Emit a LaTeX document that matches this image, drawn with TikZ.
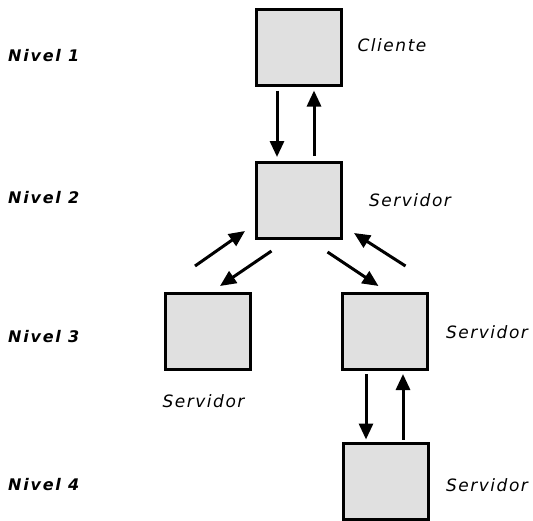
\documentclass[tikz,border=0pt]{standalone}
\usepackage{fontspec}
\setmainfont{DejaVu Sans}
\usetikzlibrary{arrows.meta}
\newfontfamily\lvlfont[LetterSpace=11]{DejaVu Sans Bold Oblique}
\newfontfamily\lblfont[LetterSpace=9]{DejaVu Sans Oblique}
\begin{document}
\begin{tikzpicture}[x=1pt,y=-1pt,
  box/.style={draw,line width=3pt,fill=black!12,minimum width=85pt,minimum height=76pt,inner sep=0pt},
  arr/.style={line width=3pt,-{Triangle[length=16pt,width=14pt]}},
  lvl/.style={font=\lvlfont\fontsize{16}{18}\selectfont,anchor=west,inner sep=0pt},
  lbl/.style={font=\lblfont\fontsize{17}{19}\selectfont,inner sep=0pt}]
\useasboundingbox[fill=white] (0,0) rectangle (533,520);
% boxes
\node[box] (b1) at (299,47) {};
\node[box] (b2) at (299,200.5) {};
\node[box] (b3l) at (207.5,331.5) {};
\node[box] (b3r) at (385,331.5) {};
\node[box] (b4) at (386,481) {};
% labels
\node[lbl] (c1) at (392,45) {Cliente};
\node[lbl] (s2) at (410,200) {Servidor};
\node[lbl] (s3r) at (487,332) {Servidor};
\node[lbl] (s3l) at (203.5,401) {Servidor};
\node[lbl] (s4) at (487,485) {Servidor};
\node[lvl] (n1) at (8,56) {Nivel 1};
\node[lvl] (n2) at (8,198) {Nivel 2};
\node[lvl] (n3) at (8,337) {Nivel 3};
\node[lvl] (n4) at (8,485) {Nivel 4};
% arrows level 1-2
\draw[arr] ([xshift=-22pt,yshift=-4pt]b1.south) -- ([xshift=-22pt,yshift=4pt]b2.north);
\draw[arr] ([xshift=15pt,yshift=5pt]b2.north) -- ([xshift=15pt,yshift=-4pt]b1.south);
% diagonals left
\draw[arr] ([xshift=-27.5pt,yshift=-11pt]b2.south) -- ([xshift=12.5pt,yshift=6pt]b3l.north);
\draw[arr] ([xshift=-12.5pt,yshift=26pt]b3l.north) -- ([xshift=-10pt,yshift=9pt]b2.south west);
% diagonals right
\draw[arr] ([xshift=28.5pt,yshift=-12pt]b2.south) -- ([xshift=-6.5pt,yshift=6pt]b3r.north);
\draw[arr] ([xshift=20.5pt,yshift=26pt]b3r.north) -- ([xshift=11pt,yshift=7pt]b2.south east);
% arrows level 3-4
\draw[arr] ([xshift=-19pt,yshift=-3pt]b3r.south) -- ([xshift=-20pt,yshift=2pt]b4.north);
\draw[arr] ([xshift=17pt,yshift=2pt]b4.north) -- ([xshift=18pt,yshift=-3pt]b3r.south);
\end{tikzpicture}
\end{document}
